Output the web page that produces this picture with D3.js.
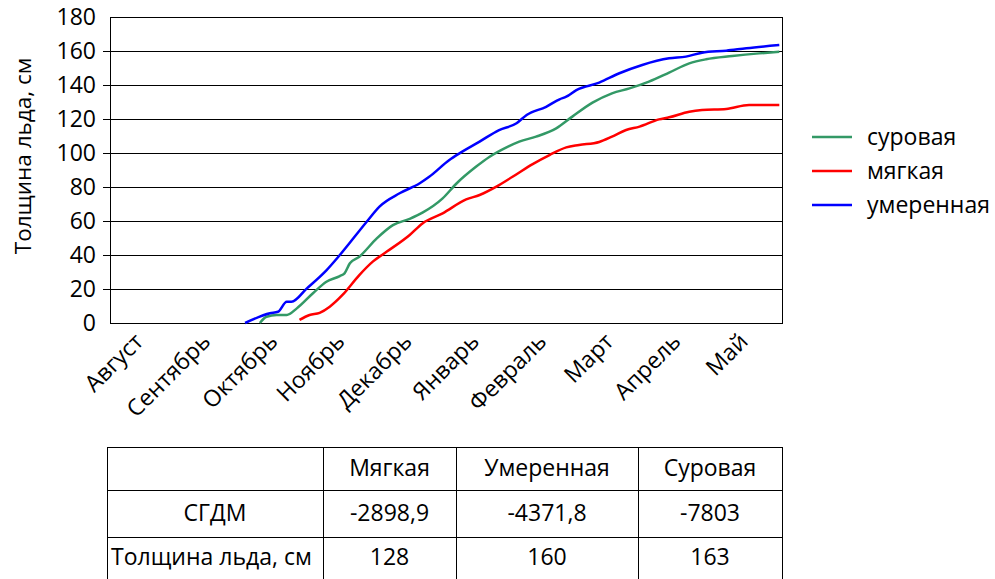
<!DOCTYPE html>
<html><head><meta charset="utf-8">
<script src="https://cdn.jsdelivr.net/npm/d3@7"></script>
<style>
html,body{margin:0;padding:0;background:#fff;}
svg{display:block;font-family:"Open Sans",sans-serif;}
</style></head>
<body>
<script>
// Categories (months of the ice season)
const months = ["Август","Сентябрь","Октябрь","Ноябрь","Декабрь","Январь","Февраль","Март","Апрель","Май"];
const yTicks = [0,20,40,60,80,100,120,140,160,180];

// Series: [month offset from 1 August, ice thickness cm]
const severe = [[2.23,0],[2.33,3.7],[2.48,4.7],[2.63,4.7],[2.78,8.6],[3.02,17.5],[3.22,24.3],[3.42,27.6],[3.49,29.2],[3.57,35.1],[3.71,39],[3.97,49.8],[4.21,57.6],[4.46,61.3],[4.65,64.9],[4.95,73.3],[5.16,82.2],[5.45,92],[5.65,97.8],[5.90,103.3],[6.09,106.7],[6.34,109.6],[6.64,114.5],[6.88,121.4],[7.18,129.6],[7.47,135.1],[7.73,138],[8.02,142],[8.32,147.3],[8.62,152.7],[8.87,155.1],[9.26,157],[9.66,158.6],[9.96,159.6]];
const mild = [[2.82,1.8],[2.97,4.7],[3.12,6],[3.27,9.6],[3.46,16.5],[3.71,28.2],[3.91,36.1],[4.12,42],[4.46,51.8],[4.65,58.6],[4.95,64.5],[5.30,72.7],[5.50,75.3],[5.75,80.2],[5.99,86],[6.29,93.5],[6.54,98.8],[6.79,103.3],[6.98,104.7],[7.28,106.5],[7.47,109.6],[7.68,113.5],[7.88,115.5],[8.17,119.8],[8.32,121],[8.62,124.3],[8.81,125.3],[9.17,125.9],[9.51,128.2],[9.96,128.2]];
const moderate = [[2.01,0],[2.38,5.7],[2.50,6.6],[2.63,12.5],[2.70,12.5],[2.93,20.4],[3.22,31],[3.42,40],[3.82,59.6],[4.01,68.5],[4.31,76.3],[4.61,82.2],[4.75,86],[5.05,95.9],[5.20,99.8],[5.50,106.7],[5.79,113.5],[6.05,117.5],[6.20,122.4],[6.49,127.2],[6.69,131.6],[6.79,133.1],[6.94,137],[7.28,141.4],[7.58,146.9],[7.92,151.8],[8.32,155.7],[8.57,156.7],[8.81,159],[9.17,160.2],[9.47,161.6],[9.96,163.5]];

const seriesNames = ["суровая","мягкая","умеренная"];
const seriesColors = ["#339966","#ff0000","#0000ff"];
const seriesData = [severe, mild, moderate];

// Table
const tableHeader = ["", "Мягкая", "Умеренная", "Суровая"];
const tableRowLabels = ["СГДМ", "Толщина льда, см"];
const sgdm = ["-2898,9", "-4371,8", "-7803"];
const thickness = ["128", "160", "163"];

const W = 995, H = 579;
const svg = d3.select("body").append("svg").attr("width", W).attr("height", H);

const L = 110, R = 782, T = 17, B = 323;
const x = d3.scaleLinear().domain([0, months.length]).range([L, R]);
const y = d3.scaleLinear().domain([0, 180]).range([B, T]);

// gridlines
svg.append("g").selectAll("line").data(yTicks).join("line")
  .attr("x1", d => (d === 0 || d === 180) ? L : L - 7).attr("x2", R)
  .attr("y1", d => y(d)).attr("y2", d => y(d))
  .attr("stroke", "#000").attr("stroke-width", 1).attr("shape-rendering", "crispEdges");
// plot border
svg.append("rect").attr("x", L).attr("y", T).attr("width", R - L).attr("height", B - T)
  .attr("fill", "none").attr("stroke", "#000").attr("stroke-width", 1).attr("shape-rendering", "crispEdges");

// y tick labels
svg.append("g").selectAll("text").data(yTicks).join("text")
  .attr("x", 96).attr("y", d => y(d)).attr("dy", "0.36em")
  .attr("text-anchor", "end").attr("font-size", 23).attr("fill", "#000").text(d => d);

// y title
svg.append("text").attr("transform", "translate(31,156) rotate(-90)")
  .attr("text-anchor", "middle").attr("font-size", 22.5).attr("fill", "#000")
  .text("Толщина льда, см");

// x labels
svg.append("g").selectAll("text").data(months).join("text")
  .attr("transform", (d, i) => `translate(${x(i + 0.5) + 1},${B + 20}) rotate(-45)`)
  .attr("text-anchor", "end").attr("font-size", 23).attr("fill", "#000").text(d => d);

// lines
const line = d3.line().x(d => x(d[0])).y(d => y(d[1])).curve(d3.curveMonotoneX);
svg.append("g").selectAll("path").data(seriesData).join("path")
  .attr("d", line).attr("fill", "none")
  .attr("stroke", (d, i) => seriesColors[i]).attr("stroke-width", 2.5)
  .attr("stroke-linejoin", "round");

// legend
const lg = svg.append("g").selectAll("g").data(seriesNames).join("g")
  .attr("transform", (d, i) => `translate(812,${137 + i * 34})`);
lg.append("line").attr("x1", 0).attr("x2", 40).attr("y1", 0).attr("y2", 0)
  .attr("stroke", (d, i) => seriesColors[i]).attr("stroke-width", 2.5);
lg.append("text").attr("x", 55).attr("y", 0).attr("dy", "0.33em")
  .attr("font-size", 23).attr("fill", "#000").text(d => d);

// table
const colX = [107, 323, 456, 638, 782];
const rowY = [447, 490, 537, 580];
const tg = svg.append("g");
tg.selectAll("line.v").data(colX).join("line").attr("class", "v")
  .attr("x1", d => d).attr("x2", d => d).attr("y1", rowY[0]).attr("y2", rowY[3])
  .attr("stroke", "#000").attr("shape-rendering", "crispEdges");
tg.selectAll("line.h").data(rowY).join("line").attr("class", "h")
  .attr("x1", colX[0]).attr("x2", colX[4]).attr("y1", d => d).attr("y2", d => d)
  .attr("stroke", "#000").attr("shape-rendering", "crispEdges");
const cells = [];
tableHeader.forEach((t, c) => cells.push({r: 0, c, t}));
[sgdm, thickness].forEach((row, r) => {
  cells.push({r: r + 1, c: 0, t: tableRowLabels[r]});
  row.forEach((t, c) => cells.push({r: r + 1, c: c + 1, t}));
});
tg.selectAll("text").data(cells).join("text")
  .attr("x", d => (d.r === 2 && d.c === 0) ? colX[0] + 4 : (colX[d.c] + colX[d.c + 1]) / 2)
  .attr("y", d => [468, 513, 557][d.r]).attr("dy", "0.35em")
  .attr("text-anchor", d => (d.r === 2 && d.c === 0) ? "start" : "middle")
  .attr("font-size", 23).attr("fill", "#000").text(d => d.t);
</script>
</body></html>
